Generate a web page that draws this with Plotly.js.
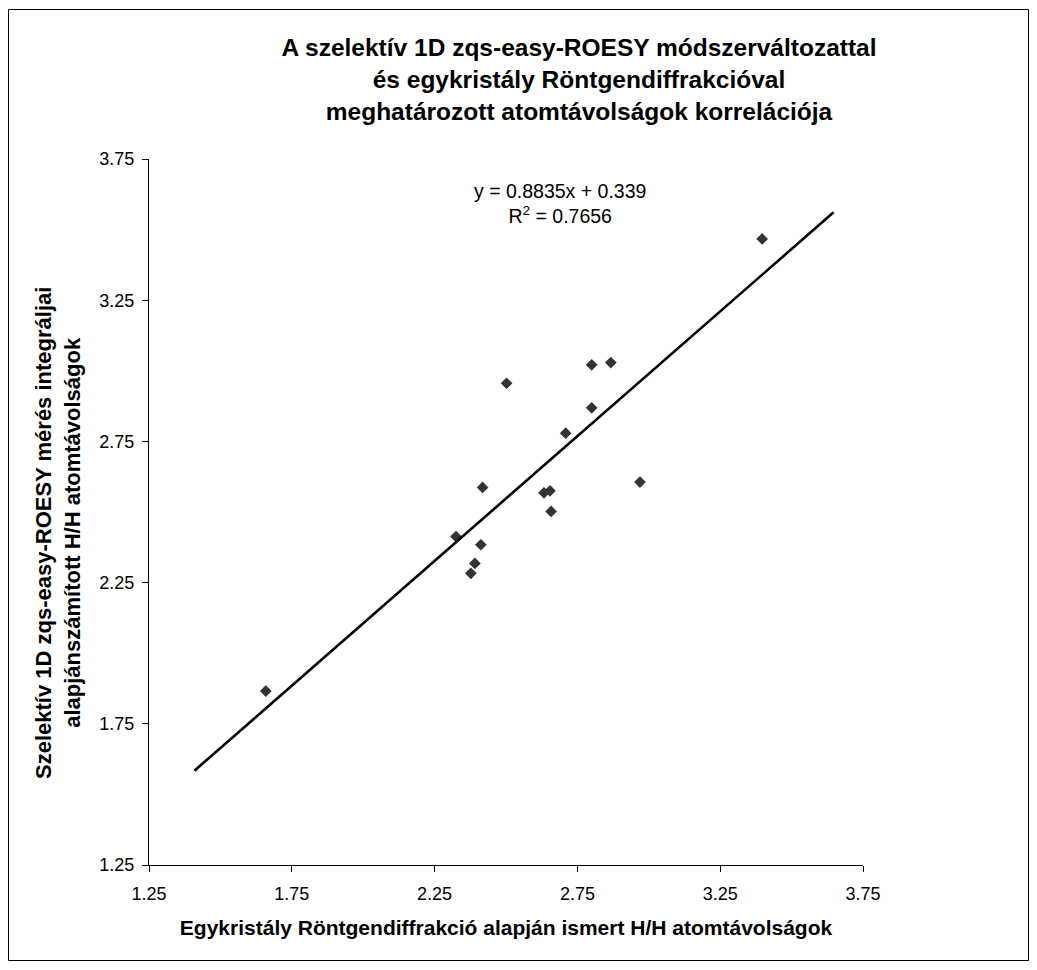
<!DOCTYPE html>
<html>
<head>
<meta charset="utf-8">
<script src="https://cdn.plot.ly/plotly-3.0.1.min.js"></script>
<style>
  html, body { margin: 0; padding: 0; background: #fff; }
  #chart { width: 1037px; height: 970px; }
</style>
</head>
<body>
<div id="chart"></div>
<script>
// X-ray (single crystal) H/H distances
const xrayDist = [1.659, 2.325, 2.377, 2.391, 2.412, 2.418, 2.502, 2.633, 2.654, 2.658, 2.709, 2.800, 2.800, 2.867, 2.969, 3.397];
// 1D zqs-easy-ROESY derived H/H distances
const roesyDist = [1.866, 2.413, 2.283, 2.318, 2.384, 2.587, 2.956, 2.568, 2.575, 2.502, 2.779, 3.021, 2.869, 3.029, 2.606, 3.467];
// Trendline parameters (as shown in chart)
const slope = 0.8835;
const intercept = 0.339;
const rSquared = 0.7656;
const forecast = 0.25;
const tickVals = [1.25, 1.75, 2.25, 2.75, 3.25, 3.75];
const tickText = ["1.25", "1.75", "2.25", "2.75", "3.25", "3.75"];

const titleText = "A szelektív 1D zqs-easy-ROESY módszerváltozattal<br>és egykristály Röntgendiffrakcióval<br>meghatározott atomtávolságok korrelációja";
const xTitle = "Egykristály Röntgendiffrakció alapján ismert H/H atomtávolságok";
const yTitle = "Szelektív 1D zqs-easy-ROESY mérés integráljai<br>alapjánszámított H/H atomtávolságok";

const xMin = Math.min(...xrayDist) - forecast;
const xMax = Math.max(...xrayDist) + forecast;
const trendX = [xMin, xMax];
const trendY = trendX.map(v => slope * v + intercept);

const W = 1037, H = 970;
const M = {l: 149, r: 174, t: 159, b: 105};
const pw = W - M.l - M.r, ph = H - M.t - M.b;
const px = v => (v - M.l) / pw;
const py = v => (H - M.b - v) / ph;

const FONT = "Liberation Sans, Arial, sans-serif";

const data = [
  {
    x: xrayDist, y: roesyDist, type: 'scatter', mode: 'markers',
    marker: {symbol: 'diamond', size: 9, color: '#333333', line: {width: 0}},
    hoverinfo: 'skip'
  },
  {
    x: trendX, y: trendY, type: 'scatter', mode: 'lines',
    line: {color: '#000000', width: 2.6},
    hoverinfo: 'skip'
  }
];

const axisCommon = {
  range: [1.25, 3.75],
  tickvals: tickVals, ticktext: tickText,
  showgrid: false, zeroline: false,
  showline: true, linecolor: '#000', linewidth: 1,
  ticks: 'outside', ticklen: 6, tickcolor: '#000', tickwidth: 1,
  tickfont: {family: FONT, size: 18, color: '#000'},
  fixedrange: true
};

const layout = {
  width: W, height: H,
  margin: M,
  paper_bgcolor: '#fff', plot_bgcolor: '#fff',
  showlegend: false,
  title: {
    text: titleText,
    font: {family: FONT, size: 24.5, color: '#000', weight: 'bold'},
    x: px(579), xref: 'paper', xanchor: 'center',
    y: 1 - 56 / H, yref: 'container', yanchor: 'top'
  },
  xaxis: Object.assign({}, axisCommon, {
    ticklabelstandoff: 6,
    title: {text: xTitle, font: {family: FONT, size: 21, color: '#000', weight: 'bold'}, standoff: 17}
  }),
  yaxis: Object.assign({}, axisCommon, {
    ticklabelstandoff: 4
  }),
  annotations: [
    {
      xref: 'paper', yref: 'paper', x: px(560), y: py(204),
      xanchor: 'center', yanchor: 'middle', showarrow: false, align: 'center',
      text: 'y = ' + slope + 'x + ' + intercept + '<br>R<sup>2</sup> = ' + rSquared,
      font: {family: FONT, size: 19.5, color: '#000'}
    },
    {
      xref: 'paper', yref: 'paper', x: px(58), y: py(533),
      xanchor: 'center', yanchor: 'middle', showarrow: false, align: 'center',
      textangle: -90,
      text: yTitle,
      font: {family: FONT, size: 22, color: '#000', weight: 'bold'}
    }
  ],
  shapes: [
    {
      type: 'rect', xref: 'paper', yref: 'paper', layer: 'above',
      x0: px(8.5), x1: px(1028.5), y0: py(960.5), y1: py(9.5),
      line: {color: '#000', width: 1}, fillcolor: 'rgba(0,0,0,0)'
    }
  ]
};

Plotly.newPlot('chart', data, layout, {staticPlot: true, displayModeBar: false});
</script>
</body>
</html>
